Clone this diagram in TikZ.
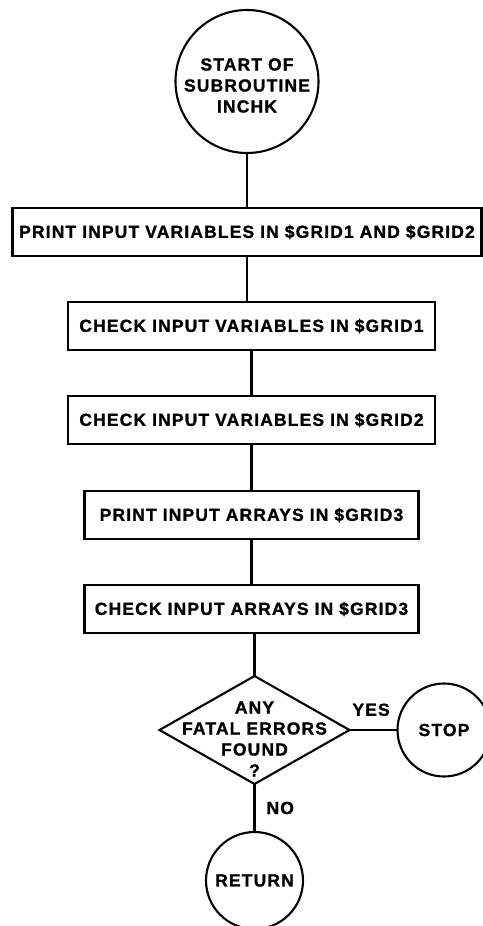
\documentclass[tikz,border=0pt]{standalone}
\usepackage{fontspec}
\newfontfamily\flowfont{Liberation Sans Bold}[FakeBold=1.2,LetterSpace=6.5]
\usetikzlibrary{shapes.geometric,positioning}
\tikzset{
    node distance = 46pt,
    proc/.style = {rectangle, draw, minimum height=48pt, inner sep=0pt, outer sep=0pt},
    term/.style = {circle, draw, inner sep=0pt, outer sep=0pt, align=center},
    decision/.style = {diamond, draw, inner sep=0pt, outer sep=0pt, minimum width=190pt, minimum height=108pt},
    lbl/.style = {inner sep=2pt},
    every node/.style = {font=\flowfont\fontsize{17.5}{21}\selectfont}
}

\begin{document}
\begin{tikzpicture}[x=1pt, y=-1pt, line width=2.1pt]
    \useasboundingbox (0,0) rectangle (482,926);

    \node[term, minimum size=143pt,
          label={[align=center, yshift=-4pt]center:{START OF\\SUBROUTINE\\INCHK}}] (start) at (247,81.5) {};
    \node[proc, minimum width=469pt, below=55pt of start] (box1) {PRINT INPUT VARIABLES IN \$GRID1 AND \$GRID2};
    \node[proc, minimum width=367pt, below=of box1, xshift=4.5pt] (box2) {CHECK INPUT VARIABLES IN \$GRID1};
    \node[proc, minimum width=367pt, below=of box2] (box3) {CHECK INPUT VARIABLES IN \$GRID2};
    \node[proc, minimum width=334pt, below=47pt of box3] (box4) {PRINT INPUT ARRAYS IN \$GRID3};
    \node[proc, minimum width=334pt, below=of box4] (box5) {CHECK INPUT ARRAYS IN \$GRID3};
    \node[decision, below=43pt of box5, xshift=3pt,
          label={[align=center, yshift=-9pt]center:{ANY\\FATAL ERRORS\\FOUND\\?}}] (errq) {};
    \node[term, minimum size=93pt, right=48pt of errq] (stop) {STOP};
    \node[term, minimum size=97pt, below=48pt of errq] (ret) {RETURN};

    \draw (start) -- (box1);
    \draw (box1) -- (box1 |- box2.north);
    \draw (box2) -- (box3);
    \draw (box3) -- (box4);
    \draw (box4) -- (box5);
    \draw (errq) -- (errq |- box5.south);
    \draw (errq) -- node[lbl, above=11pt, pos=0.45] {YES} (stop);
    \draw (errq) -- node[lbl, right=9pt] {NO} (ret);

\end{tikzpicture}
\end{document}
